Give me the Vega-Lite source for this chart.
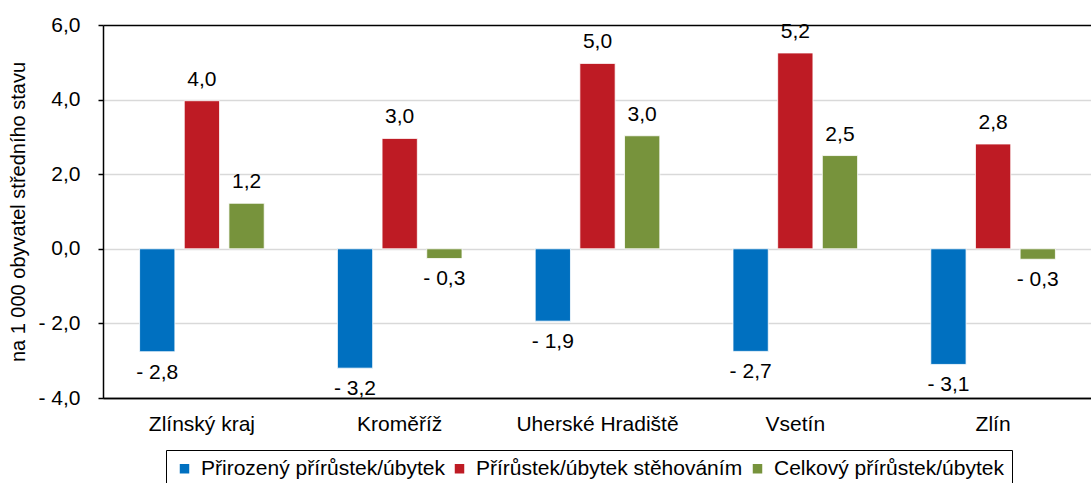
{
  "$schema": "https://vega.github.io/schema/vega-lite/v6.json",
  "width": 989,
  "height": 373,
  "padding": {"left": 8, "top": 14, "right": 0, "bottom": 0},
  "background": "white",
  "config": {
    "font": "Liberation Sans",
    "view": {"stroke": null},
    "axis": {"labelFont": "Liberation Sans", "titleFont": "Liberation Sans"}
  },
  "data": {
    "values": [
      {"okres": "Zlínský kraj", "serie": "Přirozený přírůstek/úbytek", "hodnota": -2.76, "label": "- 2,8"},
      {"okres": "Zlínský kraj", "serie": "Přírůstek/úbytek stěhováním", "hodnota": 3.97, "label": "4,0"},
      {"okres": "Zlínský kraj", "serie": "Celkový přírůstek/úbytek", "hodnota": 1.22, "label": "1,2"},
      {"okres": "Kroměříž", "serie": "Přirozený přírůstek/úbytek", "hodnota": -3.2, "label": "- 3,2"},
      {"okres": "Kroměříž", "serie": "Přírůstek/úbytek stěhováním", "hodnota": 2.96, "label": "3,0"},
      {"okres": "Kroměříž", "serie": "Celkový přírůstek/úbytek", "hodnota": -0.26, "label": "- 0,3"},
      {"okres": "Uherské Hradiště", "serie": "Přirozený přírůstek/úbytek", "hodnota": -1.94, "label": "- 1,9"},
      {"okres": "Uherské Hradiště", "serie": "Přírůstek/úbytek stěhováním", "hodnota": 4.97, "label": "5,0"},
      {"okres": "Uherské Hradiště", "serie": "Celkový přírůstek/úbytek", "hodnota": 3.03, "label": "3,0"},
      {"okres": "Vsetín", "serie": "Přirozený přírůstek/úbytek", "hodnota": -2.75, "label": "- 2,7"},
      {"okres": "Vsetín", "serie": "Přírůstek/úbytek stěhováním", "hodnota": 5.25, "label": "5,2"},
      {"okres": "Vsetín", "serie": "Celkový přírůstek/úbytek", "hodnota": 2.5, "label": "2,5"},
      {"okres": "Zlín", "serie": "Přirozený přírůstek/úbytek", "hodnota": -3.1, "label": "- 3,1"},
      {"okres": "Zlín", "serie": "Přírůstek/úbytek stěhováním", "hodnota": 2.81, "label": "2,8"},
      {"okres": "Zlín", "serie": "Celkový přírůstek/úbytek", "hodnota": -0.28, "label": "- 0,3"}
    ]
  },
  "encoding": {
    "x": {
      "field": "okres",
      "type": "nominal",
      "sort": ["Zlínský kraj", "Kroměříž", "Uherské Hradiště", "Vsetín", "Zlín"],
      "scale": {"paddingInner": 0.37, "paddingOuter": 0.185},
      "axis": {
        "title": null,
        "labelAngle": 0,
        "labelFontSize": 21,
        "labelColor": "black",
        "labelPadding": 15,
        "ticks": false,
        "domainColor": "black",
        "domainWidth": 1.5
      }
    },
    "xOffset": {
      "field": "serie",
      "type": "nominal",
      "sort": ["Přirozený přírůstek/úbytek", "Přírůstek/úbytek stěhováním", "Celkový přírůstek/úbytek"],
      "scale": {"paddingInner": 0.21, "paddingOuter": 0}
    },
    "y": {
      "field": "hodnota",
      "type": "quantitative",
      "scale": {"domain": [-4, 6], "nice": false},
      "axis": {
        "title": "na 1 000 obyvatel středního stavu",
        "titleFontSize": 20,
        "titleFontWeight": "normal",
        "titleColor": "black",
        "titlePadding": 9,
        "values": [-4, -2, 0, 2, 4, 6],
        "labelExpr": "datum.value < 0 ? '- ' + replace(format(-datum.value, '.1f'), '.', ',') : replace(format(datum.value, '.1f'), '.', ',')",
        "labelFontSize": 21,
        "labelColor": "black",
        "labelPadding": 18,
        "tickSize": 5,
        "tickColor": "black",
        "tickWidth": 1.5,
        "domainColor": "black",
        "domainWidth": 1.5,
        "grid": true,
        "gridColor": {"condition": {"test": "datum.value === 6 || datum.value === -4", "value": "black"}, "value": "#d9d9d9"},
        "gridWidth": 1.5
      }
    }
  },
  "layer": [
    {
      "mark": {"type": "bar", "stroke": "white", "strokeWidth": 0.8},
      "encoding": {
        "color": {
          "field": "serie",
          "type": "nominal",
          "sort": ["Přirozený přírůstek/úbytek", "Přírůstek/úbytek stěhováním", "Celkový přírůstek/úbytek"],
          "scale": {
            "domain": ["Přirozený přírůstek/úbytek", "Přírůstek/úbytek stěhováním", "Celkový přírůstek/úbytek"],
            "range": ["#0070c0", "#be1b24", "#77933c"]
          },
          "legend": {
            "title": null,
            "orient": "none",
            "legendX": 63,
            "legendY": 425,
            "direction": "horizontal",
            "strokeColor": "black",
            "padding": 8,
            "labelFontSize": 21,
            "labelColor": "black",
            "labelFont": "Liberation Sans",
            "labelLimit": 600,
            "symbolType": "square",
            "symbolSize": 90,
            "symbolStrokeWidth": 0,
            "labelOffset": 6,
            "columnPadding": 4
          }
        }
      }
    },
    {
      "transform": [{"filter": "datum.hodnota >= 0"}],
      "mark": {"type": "text", "fontSize": 21, "baseline": "alphabetic", "dy": -15, "color": "black"},
      "encoding": {"text": {"field": "label"}}
    },
    {
      "transform": [{"filter": "datum.hodnota < 0"}],
      "mark": {"type": "text", "fontSize": 21, "baseline": "top", "dy": 10, "color": "black"},
      "encoding": {"text": {"field": "label"}}
    }
  ]
}
